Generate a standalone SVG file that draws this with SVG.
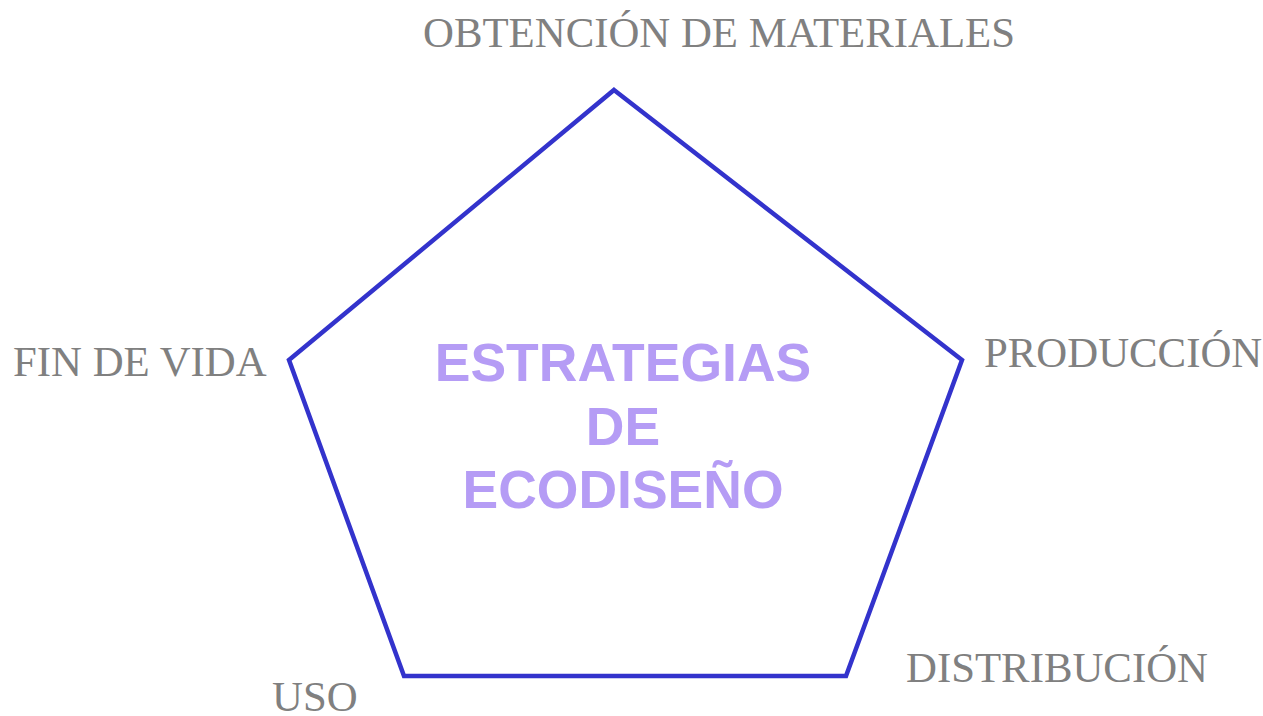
<svg xmlns="http://www.w3.org/2000/svg" width="1263" height="716" viewBox="0 0 1263 716">
<style>
.lbl{font-family:"Liberation Serif","Times New Roman",serif;font-size:42.8px;fill:#808080}
.ttl{font-family:"Liberation Sans",Arial,sans-serif;font-size:53.5px;font-weight:bold;fill:#b59cf5;text-anchor:middle}
.edge{fill:none;stroke:#3333cc;stroke-width:4.5;stroke-linejoin:miter}
</style>
<rect width="1263" height="716" fill="#ffffff"/>
<g id="pentagon">
<polygon class="edge" points="614,90 962,360 846,676 404,676 289,360"/>
</g>
<g id="center">
<text class="ttl" x="623" y="381">ESTRATEGIAS</text>
<text class="ttl" x="623" y="445">DE</text>
<text class="ttl" x="623" y="508">ECODISEÑO</text>
</g>
<g id="obtencion"><text class="lbl" x="423" y="47">OBTENCIÓN DE MATERIALES</text></g>
<g id="produccion"><text class="lbl" x="984" y="367">PRODUCCIÓN</text></g>
<g id="fin-de-vida"><text class="lbl" x="13" y="376">FIN DE VIDA</text></g>
<g id="distribucion"><text class="lbl" x="906" y="682">DISTRIBUCIÓN</text></g>
<g id="uso"><text class="lbl" x="272" y="711">USO</text></g>
</svg>
